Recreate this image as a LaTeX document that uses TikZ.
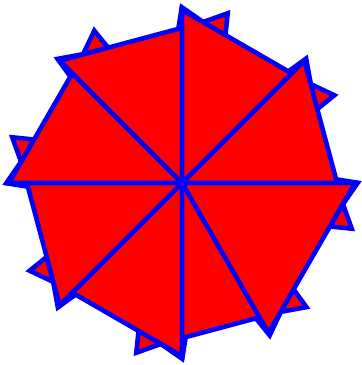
\documentclass[tikz,border=0pt]{standalone}
\usetikzlibrary{calc}

\begin{document}
\begin{tikzpicture}[x=1pt,y=1pt,
  piece/.style={draw=blue,fill=red,line width=4.6pt,line join=miter}]
\useasboundingbox (0,0) rectangle (362,365);
\coordinate (O) at (182,182);
\def\rad{173}
\foreach \a in {-45,-90,...,-360}{
  \coordinate (A) at ($(O)+(\a:\rad)$);
  \coordinate (B) at ($(O)+({\a-60}:\rad)$);
  % small ears on the outer side
  \foreach \t/\s in {0.14/4,0.71/-4}{
    \coordinate (P) at ($(A)!\t!(B)$);
    \coordinate (Q) at ($(A)!{\t+0.15}!(B)$);
    \draw[piece] (P) -- ($(P)!0.5!(Q)+({\a-30}:20)+({\a-120}:\s)$) -- (Q) -- cycle;
  }
  \draw[piece] (O) -- (A) -- (B) -- cycle;
}
\end{tikzpicture}
\end{document}
